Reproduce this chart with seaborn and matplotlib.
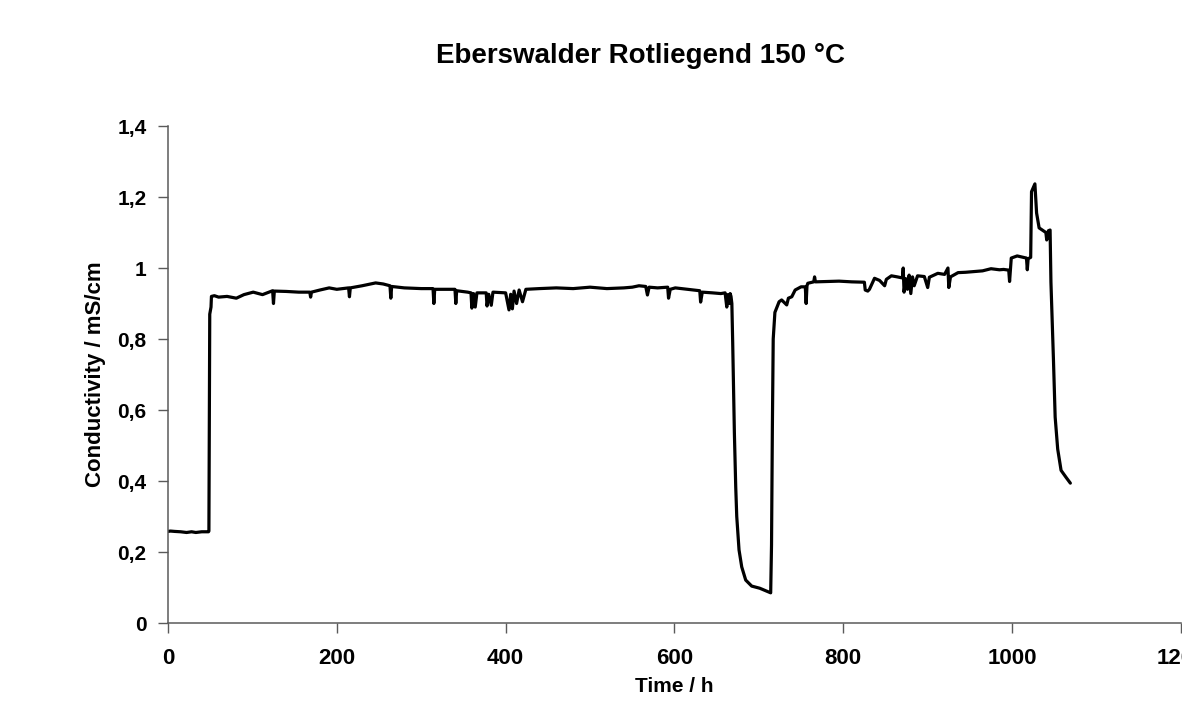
import matplotlib
matplotlib.use("Agg")
import matplotlib.pyplot as plt
import seaborn as sns

# Conductivity log (time in h, conductivity in mS/cm)
time_h = [
    0, 3, 8, 15, 22, 28, 33, 40, 48, 48.5, 49, 49.5, 51, 51.5,
    55, 60, 70, 81, 90, 101, 112, 124, 125, 126, 140, 155, 168, 169, 170,
    180, 191, 200, 214, 215, 216, 230, 246, 255, 263, 264, 265, 280, 300,
    314, 315, 316, 330, 340, 341, 342, 355, 359, 360, 362, 364, 366, 377,
    378, 380, 383, 385, 400, 404, 406, 408, 410, 413, 416, 420, 424, 440,
    460, 480, 500, 520, 540, 550, 558, 566, 568, 570, 580, 592, 593, 595,
    601, 615, 630, 631, 633, 645, 655, 660, 662, 663, 665, 666, 667,
    668, 669, 671, 672.6, 673.8, 676.5, 679.7, 684.4, 691.5, 701, 714,
    715, 716, 717, 719, 721, 724, 727, 733, 735, 739, 743, 750, 755, 756,
    757, 758, 765, 766, 767, 780, 795, 810, 825, 826, 829, 831, 837, 843,
    849, 851, 857, 864, 870, 871, 872, 874, 876, 878, 880, 882, 884, 888,
    896, 900, 902, 912, 920, 924, 925, 927, 936, 945, 955, 965, 975, 985,
    990, 996, 997, 999, 1006, 1017, 1018, 1019, 1022, 1023, 1027, 1029,
    1032, 1040, 1041, 1043, 1045, 1046, 1049, 1051, 1054, 1058, 1064, 1069,
]
conductivity = [
    0.258, 0.259, 0.258, 0.257, 0.255, 0.257, 0.255, 0.257, 0.257, 0.259, 0.55, 0.87, 0.89, 0.92,
    0.922, 0.918, 0.92, 0.915, 0.925, 0.932, 0.925, 0.936, 0.90, 0.935, 0.934, 0.932, 0.932, 0.918, 0.932,
    0.938, 0.944, 0.94, 0.944, 0.919, 0.944, 0.95, 0.958, 0.955, 0.95, 0.915, 0.948, 0.944, 0.942,
    0.942, 0.90, 0.94, 0.94, 0.94, 0.90, 0.936, 0.932, 0.93, 0.887, 0.928, 0.89, 0.93, 0.93,
    0.893, 0.926, 0.895, 0.932, 0.93, 0.882, 0.926, 0.885, 0.935, 0.90, 0.938, 0.905, 0.94, 0.942,
    0.944, 0.942, 0.946, 0.942, 0.944, 0.946, 0.95, 0.948, 0.924, 0.946, 0.944, 0.946, 0.915, 0.94,
    0.944, 0.94, 0.936, 0.904, 0.932, 0.93, 0.928, 0.93, 0.89, 0.925, 0.90, 0.928, 0.92,
    0.90, 0.79, 0.535, 0.383, 0.30, 0.206, 0.158, 0.121, 0.104, 0.098, 0.085,
    0.22, 0.55, 0.80, 0.875, 0.887, 0.905, 0.91, 0.896, 0.915, 0.919, 0.938, 0.947, 0.947, 0.90,
    0.95, 0.957, 0.961, 0.975, 0.961, 0.962, 0.963, 0.961, 0.96, 0.938, 0.935, 0.94, 0.971, 0.965,
    0.95, 0.968, 0.978, 0.975, 0.972, 1.0, 0.932, 0.97, 0.94, 0.98, 0.928, 0.975, 0.95, 0.978,
    0.976, 0.945, 0.974, 0.985, 0.982, 1.0, 0.945, 0.975, 0.987, 0.988, 0.99, 0.992, 0.998, 0.995,
    0.996, 0.994, 0.962, 1.028, 1.034, 1.028, 0.995, 1.026, 1.03, 1.215, 1.237, 1.155,
    1.113, 1.10, 1.079, 1.105, 1.107, 0.96, 0.74, 0.58, 0.49, 0.43, 0.41, 0.394,
]

x_ticks = [0, 200, 400, 600, 800, 1000, 1200]
x_tick_labels = ["0", "200", "400", "600", "800", "1000", "1200"]
y_ticks = [0, 0.2, 0.4, 0.6, 0.8, 1.0, 1.2, 1.4]
y_tick_labels = ["0", "0,2", "0,4", "0,6", "0,8", "1", "1,2", "1,4"]

sns.set_theme(style="ticks")
plt.rcParams["font.family"] = ["Liberation Sans", "DejaVu Sans"]
plt.rcParams["text.color"] = "black"
plt.rcParams["axes.labelcolor"] = "black"
plt.rcParams["xtick.labelcolor"] = "black"
plt.rcParams["ytick.labelcolor"] = "black"

fig = plt.figure(figsize=(11.82, 7.18), dpi=100)
ax = fig.add_axes([0.1421, 0.1323, 0.857, 0.6922])

sns.lineplot(x=time_h, y=conductivity, ax=ax, color="black", linewidth=2.3,
             estimator=None, sort=False)

ax.set_xlim(0, 1200)
ax.set_ylim(0, 1.4)
ax.set_xticks(x_ticks)
ax.set_xticklabels(x_tick_labels, fontsize=16, fontweight="bold", color="black")
ax.set_yticks(y_ticks)
ax.set_yticklabels(y_tick_labels, fontsize=15, fontweight="bold", color="black")

for side in ["top", "right"]:
    ax.spines[side].set_visible(False)
for side in ["left", "bottom"]:
    ax.spines[side].set_color("#5a5a5a")
    ax.spines[side].set_linewidth(1.1)

ax.tick_params(axis="x", length=7, width=1, color="#5a5a5a", pad=11)
ax.tick_params(axis="y", length=7, width=1, color="#5a5a5a", pad=8.5)

ax.set_xlabel("Time / h", fontsize=15, fontweight="bold", labelpad=6, color="black")
ax.set_ylabel("Conductivity / mS/cm", fontsize=16, fontweight="bold", labelpad=8,
              color="black")

fig.text(0.5415, 0.912, "Eberswalder Rotliegend 150 °C", ha="center",
         va="baseline", fontsize=20, fontweight="bold", color="black")

fig.savefig("out.png", dpi=100)
